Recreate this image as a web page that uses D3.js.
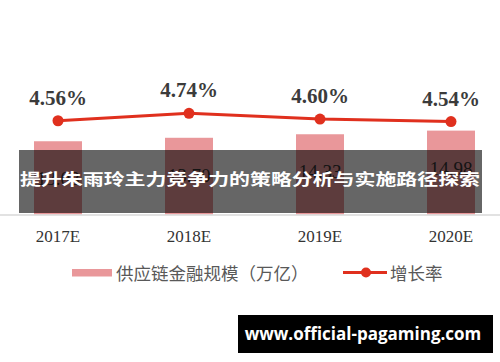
<!DOCTYPE html>
<html>
<head>
<meta charset="utf-8">
<script src="https://cdn.jsdelivr.net/npm/d3@7"></script>
<style>
  body { margin: 0; background: #fff; }
</style>
</head>
<body>
<div id="container"></div>
<script>
// data
var years = ["2017E", "2018E", "2019E", "2020E"];
var scaleValues = [13.08, 13.70, 14.33, 14.98];
var growthRates = [4.56, 4.74, 4.60, 4.54];
var growthLabels = ["4.56%", "4.74%", "4.60%", "4.54%"];
var scaleLabels = ["13.08", "13.70", "14.33", "14.98"];
var barName = "供应链金融规模（万亿）";
var lineName = "增长率";
var bannerText = "提升朱雨玲主力竞争力的策略分析与实施路径探索";
var siteText = "www.official-pagaming.com";

// width and height
var width = 500;
var height = 362;

var svg = d3.select("#container")
            .append("svg")
            .attr("width", width)
            .attr("height", height)
            .style("display", "block");

// scales
var x = d3.scalePoint()
          .domain(years)
          .range([58, 451]);

var yBar = d3.scaleLinear()
             .domain([0, 20])
             .range([214.5, 102.5]);

var yLine = d3.scaleLinear()
              .domain([4.0, 5.0])
              .range([143.7, 102.7]);

var barWidth = 48;

// bars
svg.selectAll(".bar")
   .data(scaleValues)
   .enter().append("rect")
   .attr("class", "bar")
   .attr("x", function(d, i) { return x(years[i]) - barWidth / 2; })
   .attr("y", function(d) { return yBar(d); })
   .attr("width", barWidth)
   .attr("height", function(d) { return yBar(0) - yBar(d); })
   .attr("fill", "#e9979a");

// bar value labels (mostly hidden by the banner)
svg.selectAll(".barlabel")
   .data(scaleValues)
   .enter().append("text")
   .attr("x", function(d, i) { return x(years[i]); })
   .attr("y", function(d) { return yBar(d) + 44; })
   .attr("text-anchor", "middle")
   .style("font-family", "'Liberation Serif', 'DejaVu Serif', serif")
   .style("font-size", "19px")
   .attr("fill", "#333")
   .text(function(d, i) { return scaleLabels[i]; });

// x axis line
svg.append("line")
   .attr("x1", 0)
   .attr("x2", width)
   .attr("y1", 215)
   .attr("y2", 215)
   .attr("stroke", "#d9d9d9")
   .attr("stroke-width", 1.5);

// x axis labels
svg.selectAll(".xlabel")
   .data(years)
   .enter().append("text")
   .attr("x", function(d) { return x(d); })
   .attr("y", 241.5)
   .attr("text-anchor", "middle")
   .style("font-family", "'Liberation Serif', 'DejaVu Serif', serif")
   .style("font-size", "17px")
   .attr("fill", "#333")
   .text(function(d) { return d; });

// growth line
var line = d3.line()
             .x(function(d, i) { return x(years[i]); })
             .y(function(d) { return yLine(d); });

svg.append("path")
   .datum(growthRates)
   .attr("d", line)
   .attr("fill", "none")
   .attr("stroke", "#e0301e")
   .attr("stroke-width", 3);

svg.selectAll(".dot")
   .data(growthRates)
   .enter().append("circle")
   .attr("cx", function(d, i) { return x(years[i]); })
   .attr("cy", function(d) { return yLine(d); })
   .attr("r", 5.5)
   .attr("fill", "#e0301e");

svg.selectAll(".ratelabel")
   .data(growthRates)
   .enter().append("text")
   .attr("x", function(d, i) { return x(years[i]); })
   .attr("y", function(d) { return yLine(d) - 16; })
   .attr("text-anchor", "middle")
   .style("font-family", "'Liberation Serif', 'DejaVu Serif', serif")
   .style("font-size", "21px")
   .style("font-weight", "bold")
   .attr("fill", "#3b3b3b")
   .text(function(d, i) { return growthLabels[i]; });

// legend
var legend = svg.append("g");

legend.append("rect")
      .attr("x", 72)
      .attr("y", 269)
      .attr("width", 40)
      .attr("height", 7.5)
      .attr("fill", "#e9979a");

legend.append("text")
      .attr("x", 116)
      .attr("y", 279.5)
      .style("font-family", "'Noto Sans CJK SC', sans-serif")
      .style("font-size", "17.5px")
      .attr("fill", "#595959")
      .text(barName);

legend.append("line")
      .attr("x1", 343)
      .attr("x2", 387)
      .attr("y1", 272.5)
      .attr("y2", 272.5)
      .attr("stroke", "#e0301e")
      .attr("stroke-width", 3);

legend.append("circle")
      .attr("cx", 366)
      .attr("cy", 272.5)
      .attr("r", 5)
      .attr("fill", "#e0301e");

legend.append("text")
      .attr("x", 390)
      .attr("y", 279.5)
      .style("font-family", "'Noto Sans CJK SC', sans-serif")
      .style("font-size", "17.5px")
      .attr("fill", "#595959")
      .text(lineName);

// banner over the chart
svg.append("rect")
   .attr("x", 19)
   .attr("y", 150)
   .attr("width", 463)
   .attr("height", 63)
   .attr("fill", "#000")
   .attr("fill-opacity", 0.6);

svg.append("text")
   .attr("x", 20)
   .attr("y", 184.5)
   .attr("textLength", 460)
   .attr("lengthAdjust", "spacingAndGlyphs")
   .style("font-family", "'Noto Sans CJK SC', sans-serif")
   .style("font-size", "16px")
   .style("font-weight", "bold")
   .attr("fill", "#fff")
   .text(bannerText);

// site box
svg.append("rect")
   .attr("x", 238)
   .attr("y", 315)
   .attr("width", 255)
   .attr("height", 38)
   .attr("fill", "#000");

svg.append("text")
   .attr("x", 363)
   .attr("y", 340)
   .attr("text-anchor", "middle")
   .style("font-family", "'Open Sans', sans-serif")
   .style("font-size", "17px")
   .style("font-weight", "bold")
   .attr("fill", "#fff")
   .text(siteText);
</script>
</body>
</html>
